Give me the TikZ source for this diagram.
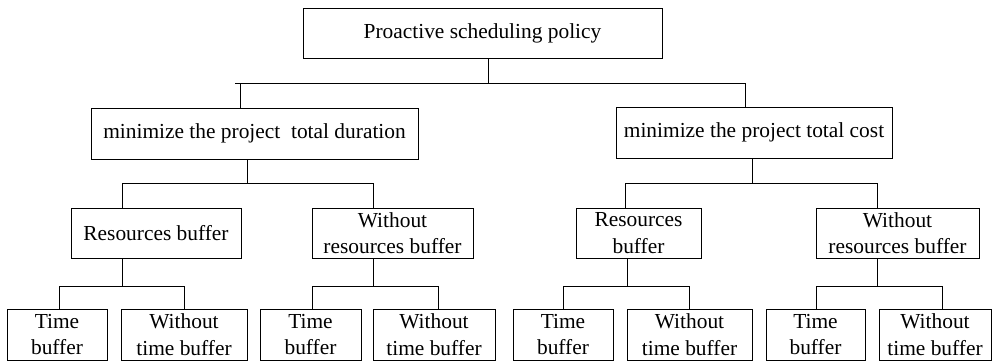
\documentclass[tikz,border=0pt]{standalone}
\usepackage{fontspec}
\setmainfont{Liberation Serif}
\begin{document}
\begin{tikzpicture}[x=1pt,y=-1pt,
  box/.style={draw, line width=0.8pt, inner sep=0pt, align=center,
    font=\fontsize{21.4}{26.5}\selectfont},
  link/.style={line width=0.8pt}]
\useasboundingbox (0,0) rectangle (994,362);
% level 1
\node[box, minimum width=359pt, minimum height=50pt] (top) at (482.5,33) {Proactive scheduling policy};
% level 2
\node[box, minimum width=327pt, minimum height=51pt] (l2a) at (254.5,133.5) {minimize the project~~total duration};
\node[box, minimum width=276pt, minimum height=51pt] (l2b) at (754,132.5) {minimize the project total cost};
% level 3
\node[box, minimum width=170pt, minimum height=50pt] (l3a) at (156,233) {Resources buffer};
\node[box, minimum width=161pt, minimum height=50pt] (l3b) at (392.5,233) {Without\\resources buffer};
\node[box, minimum width=125pt, minimum height=50pt] (l3c) at (638.5,233) {Resources\\buffer};
\node[box, minimum width=163pt, minimum height=50pt] (l3d) at (897.5,233) {Without\\resources buffer};
% level 4
\node[box, minimum width=100pt, minimum height=51pt] (l4a) at (57,334.5) {Time\\buffer};
\node[box, minimum width=126pt, minimum height=51pt] (l4b) at (184,334.5) {Without\\time buffer};
\node[box, minimum width=101pt, minimum height=51pt] (l4c) at (310.5,334.5) {Time\\buffer};
\node[box, minimum width=122pt, minimum height=51pt] (l4d) at (434,334.5) {Without\\time buffer};
\node[box, minimum width=100pt, minimum height=51pt] (l4e) at (563,334.5) {Time\\buffer};
\node[box, minimum width=125pt, minimum height=51pt] (l4f) at (689.5,334.5) {Without\\time buffer};
\node[box, minimum width=99pt, minimum height=51pt] (l4g) at (815.5,334.5) {Time\\buffer};
\node[box, minimum width=112pt, minimum height=51pt] (l4h) at (935,334.5) {Without\\time buffer};
% connectors level 1
\draw[link] ([xshift=5.5pt]top.south) -- ++(0,25) coordinate (j0);
\draw[link] ([xshift=-14.5pt]l2a.north) |- (j0) -| ([xshift=-9pt]l2b.north);
\draw[link] ([xshift=-14.5pt]l2a.north |- j0) -- ++(-5,0);
% level 2
\draw[link] ([xshift=-7.5pt]l2a.south) -- ++(0,24) coordinate (j1);
\draw[link] ([xshift=-34pt]l3a.north) |- (j1) -| ([xshift=-19.5pt]l3b.north);
\draw[link] ([xshift=-2pt]l2b.south) -- ++(0,25) coordinate (j2);
\draw[link] ([xshift=-13.5pt]l3c.north) |- (j2) -| ([xshift=-20.5pt]l3d.north);
% level 3
\draw[link] ([xshift=-34pt]l3a.south) -- ++(0,28) coordinate (j3);
\draw[link] ([xshift=2pt]l4a.north) |- (j3) -| (l4b.north);
\draw[link] ([xshift=-19.5pt]l3b.south) -- ++(0,28) coordinate (j4);
\draw[link] ([xshift=1.5pt]l4c.north) |- (j4) -| ([xshift=4pt]l4d.north);
\draw[link] ([xshift=-11.5pt]l3c.south) -- ++(0,28) coordinate (j5);
\draw[link] (l4e.north) |- (j5) -| (l4f.north);
\draw[link] ([xshift=-20.5pt]l3d.south) -- ++(0,28) coordinate (j6);
\draw[link] ([xshift=0.5pt]l4g.north) |- (j6) -| ([xshift=7pt]l4h.north);
\end{tikzpicture}
\end{document}
